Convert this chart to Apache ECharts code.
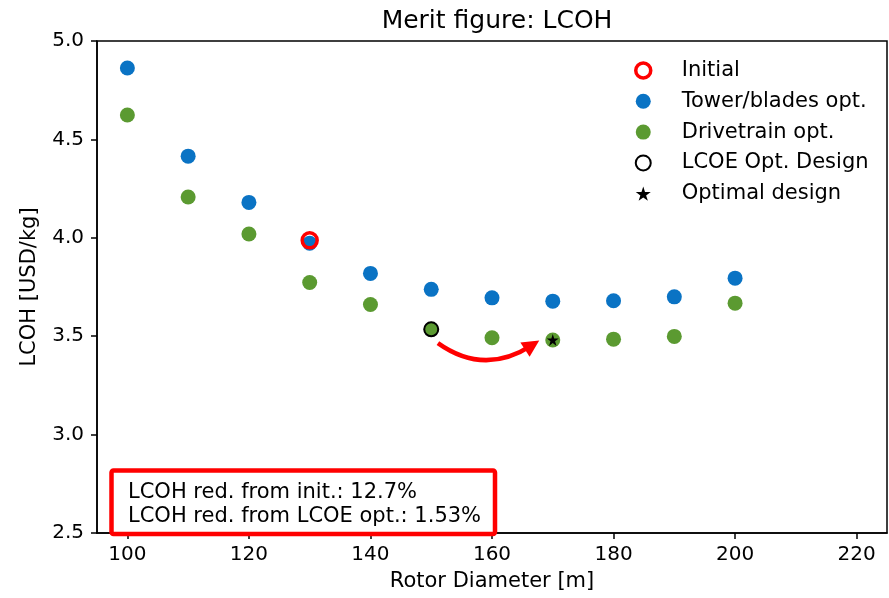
<!DOCTYPE html>
<html>
<head>
<meta charset="utf-8">
<script src="https://cdn.jsdelivr.net/npm/echarts@6/dist/echarts.min.js"></script>
<style>
  html, body { margin: 0; padding: 0; background: #fff; }
  #chart { width: 889px; height: 598px; }
</style>
</head>
<body>
<div id="chart"></div>
<script>
// Rotor diameters evaluated in the sweep [m]
const rotorDiameters = [100, 110, 120, 130, 140, 150, 160, 170, 180, 190, 200];

// LCOH after the tower/blades optimisation step [USD/kg]
const towerBladesLcoh = [4.863, 4.415, 4.180, 3.972, 3.819, 3.738, 3.695, 3.678, 3.680, 3.700, 3.795];

// LCOH after the drivetrain optimisation step [USD/kg]
const drivetrainLcoh = [4.624, 4.207, 4.019, 3.773, 3.661, 3.535, 3.492, 3.481, 3.485, 3.499, 3.668];

// Highlighted designs: [rotor diameter, LCOH]
const initialDesign = [130, 3.987];
const lcoeOptDesign = [150, 3.535];
const optimalDesign = [170, 3.481];

// Arrow from the LCOE-optimal design towards the LCOH-optimal design
const arrowFrom = [151.1, 3.465];
const arrowTo = [166.6, 3.455];

// Reduction figures quoted in the annotation box
const reductionFromInit = '12.7%';
const reductionFromLcoe = '1.53%';

// Axis tick values
const xTicks = [100, 120, 140, 160, 180, 200, 220];

const FONT = 'DejaVu Sans';
const BLUE = '#0a73c4';
const GREEN = '#5b9a31';
const RED = '#ff0000';

const pair = (xs, ys) => xs.map((x, i) => [x, ys[i]]);

const starPath = 'path://M50,0 L61.2,34.5 L97.6,34.5 L68.2,55.9 L79.4,90.5 L50,69.1 L20.6,90.5 L31.8,55.9 L2.4,34.5 L38.8,34.5 Z';

const chart = echarts.init(document.getElementById('chart'), null, { renderer: 'canvas' });

chart.setOption({
  backgroundColor: '#fff',
  animation: false,
  textStyle: { fontFamily: FONT },
  title: {
    text: 'Merit figure: LCOH',
    left: 492,
    textAlign: 'center',
    top: 4,
    textStyle: { fontFamily: FONT, fontSize: 25, fontWeight: 'normal', color: '#000' }
  },
  grid: {
    left: 97, right: 2, top: 41, bottom: 65,
    show: true, borderColor: '#000', borderWidth: 1.5, backgroundColor: 'transparent'
  },
  legend: {
    orient: 'vertical',
    left: 634,
    top: 60,
    padding: 0,
    itemWidth: 15,
    itemHeight: 15,
    itemGap: 9.8,
    textStyle: { fontFamily: FONT, fontSize: 21, color: '#000', lineHeight: 21, padding: [0, 0, 0, 26] },
    data: [
      { name: 'Initial', icon: 'circle', itemStyle: { color: '#fff', borderColor: RED, borderWidth: 3.5 } },
      { name: 'Tower/blades opt.', icon: 'circle', itemStyle: { color: BLUE, borderWidth: 0 } },
      { name: 'Drivetrain opt.', icon: 'circle', itemStyle: { color: GREEN, borderWidth: 0 } },
      { name: 'LCOE Opt. Design', icon: 'circle', itemStyle: { color: '#fff', borderColor: '#000', borderWidth: 2 } },
      { name: 'Optimal design', icon: starPath, itemStyle: { color: '#000', borderWidth: 0 } }
    ]
  },
  xAxis: {
    type: 'value',
    min: 95,
    max: 225,
    name: 'Rotor Diameter [m]',
    nameLocation: 'middle',
    nameGap: 38,
    nameTextStyle: { fontFamily: FONT, fontSize: 21, color: '#000' },
    axisLine: { show: true, lineStyle: { color: '#000', width: 1.5 } },
    axisTick: { show: true, length: 6, lineStyle: { color: '#000', width: 1.5 }, customValues: xTicks },
    axisLabel: { fontFamily: FONT, fontSize: 20, color: '#000', margin: 12, customValues: xTicks },
    splitLine: { show: false }
  },
  yAxis: {
    type: 'value',
    min: 2.5,
    max: 5.0,
    interval: 0.5,
    name: 'LCOH [USD/kg]',
    nameLocation: 'middle',
    nameRotate: 90,
    nameGap: 57,
    nameTextStyle: { fontFamily: FONT, fontSize: 21, color: '#000' },
    axisLine: { show: true, lineStyle: { color: '#000', width: 1.5 } },
    axisTick: { show: true, length: 6, lineStyle: { color: '#000', width: 1.5 } },
    axisLabel: { fontFamily: FONT, fontSize: 20, color: '#000', margin: 13, formatter: v => v.toFixed(1) },
    splitLine: { show: false }
  },
  series: [
    {
      name: 'Tower/blades opt.',
      type: 'scatter',
      symbol: 'circle',
      symbolSize: 15,
      itemStyle: { color: BLUE, opacity: 1 },
      data: pair(rotorDiameters, towerBladesLcoh),
      z: 2
    },
    {
      name: 'Drivetrain opt.',
      type: 'scatter',
      symbol: 'circle',
      symbolSize: 15,
      itemStyle: { color: GREEN, opacity: 1 },
      data: pair(rotorDiameters, drivetrainLcoh),
      z: 2
    },
    {
      name: 'Initial',
      type: 'scatter',
      symbol: 'circle',
      symbolSize: 15,
      itemStyle: { color: 'none', borderColor: RED, borderWidth: 3.5, opacity: 1 },
      data: [initialDesign],
      z: 4
    },
    {
      name: 'LCOE Opt. Design',
      type: 'scatter',
      symbol: 'circle',
      symbolSize: 14,
      itemStyle: { color: 'none', borderColor: '#000', borderWidth: 2, opacity: 1 },
      data: [lcoeOptDesign],
      z: 4
    },
    {
      name: 'Optimal design',
      type: 'scatter',
      symbol: starPath,
      symbolSize: 12,
      itemStyle: { color: '#000', opacity: 1 },
      data: [optimalDesign],
      z: 4
    },
    {
      name: 'arrow',
      type: 'lines',
      coordinateSystem: 'cartesian2d',
      symbol: ['none', 'triangle'],
      symbolSize: [15, 17],
      lineStyle: { color: RED, width: 4.5, curveness: -0.34, opacity: 1 },
      data: [{ coords: [arrowFrom, arrowTo] }],
      z: 3
    }
  ],
  graphic: [
    {
      type: 'rect',
      z: 100,
      shape: { x: 111.5, y: 470.5, width: 383.5, height: 63.5, r: 2 },
      style: { fill: '#fff', stroke: RED, lineWidth: 4.5 }
    },
    {
      type: 'text',
      z: 101,
      x: 128, y: 493,
      style: {
        text: 'LCOH red. from init.: ' + reductionFromInit,
        font: '21px "DejaVu Sans"', fill: '#000', verticalAlign: 'middle', align: 'left'
      }
    },
    {
      type: 'text',
      z: 101,
      x: 128, y: 517,
      style: {
        text: 'LCOH red. from LCOE opt.: ' + reductionFromLcoe,
        font: '21px "DejaVu Sans"', fill: '#000', verticalAlign: 'middle', align: 'left'
      }
    }
  ]
});
</script>
</body>
</html>
